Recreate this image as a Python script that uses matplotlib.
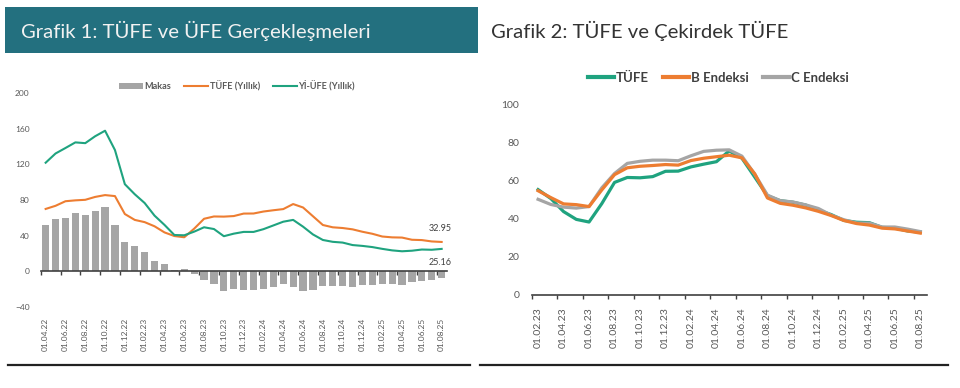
import matplotlib
matplotlib.use('Agg')
import matplotlib.pyplot as plt
from matplotlib.lines import Line2D
from matplotlib.patches import Rectangle, Patch

plt.rcParams['font.family'] = ['Lato', 'DejaVu Sans']

# ---------------- data ----------------
left_months = ['01.04.22', '01.05.22', '01.06.22', '01.07.22', '01.08.22', '01.09.22', '01.10.22',
               '01.11.22', '01.12.22', '01.01.23', '01.02.23', '01.03.23', '01.04.23', '01.05.23',
               '01.06.23', '01.07.23', '01.08.23', '01.09.23', '01.10.23', '01.11.23', '01.12.23',
               '01.01.24', '01.02.24', '01.03.24', '01.04.24', '01.05.24', '01.06.24', '01.07.24',
               '01.08.24', '01.09.24', '01.10.24', '01.11.24', '01.12.24', '01.01.25', '01.02.25',
               '01.03.25', '01.04.25', '01.05.25', '01.06.25', '01.07.25', '01.08.25']
tufe_yillik = [69.97, 73.50, 78.62, 79.60, 80.21, 83.45, 85.51, 84.39, 64.27,
               57.68, 55.18, 50.51, 43.68, 39.59, 38.21, 47.83, 58.94, 61.53, 61.36, 61.98, 64.77,
               64.86, 67.07, 68.50, 69.80, 75.45, 71.60, 61.78, 51.97, 49.38, 48.58, 47.09, 44.38,
               42.12, 39.05, 38.10, 37.86, 35.41, 35.05, 33.52, 32.95]
ufe_yillik = [121.82, 132.16, 138.31, 144.61, 143.75, 151.50, 157.69, 136.02, 97.72,
              86.46, 76.61, 62.45, 52.11, 40.76, 40.42, 44.50, 49.41, 47.44, 39.39, 42.25, 44.22,
              44.20, 47.29, 51.47, 55.66, 57.68, 50.09, 41.37, 35.17, 33.09, 32.24, 29.47, 28.52,
              27.20, 25.21, 23.50, 22.50, 23.13, 24.45, 24.19, 25.16]
makas = [51.85, 58.66, 59.69, 65.01, 63.54, 68.05, 72.18, 51.63, 33.45,
         28.78, 21.43, 11.94, 8.43, 1.17, 2.21, -3.33, -9.53, -14.09, -21.97, -19.73, -20.55,
         -20.66, -19.78, -17.03, -14.14, -17.77, -21.51, -20.41, -16.80, -16.29, -16.34, -17.62, -15.86,
         -14.92, -13.84, -14.60, -15.36, -12.28, -10.60, -9.33, -7.79]
left_yticks = [-40, 0, 40, 80, 120, 160, 200]

right_months = ['01.02.23', '01.03.23', '01.04.23', '01.05.23', '01.06.23', '01.07.23', '01.08.23',
                '01.09.23', '01.10.23', '01.11.23', '01.12.23', '01.01.24', '01.02.24', '01.03.24',
                '01.04.24', '01.05.24', '01.06.24', '01.07.24', '01.08.24', '01.09.24', '01.10.24',
                '01.11.24', '01.12.24', '01.01.25', '01.02.25', '01.03.25', '01.04.25', '01.05.25',
                '01.06.25', '01.07.25', '01.08.25']
tufe_r = [55.18, 50.51, 43.68, 39.59, 38.21, 47.83, 58.94, 61.53, 61.36, 61.98, 64.77,
          64.86, 67.07, 68.50, 69.80, 75.45, 71.60, 61.78, 51.97, 49.38, 48.58, 47.09, 44.38,
          42.12, 39.05, 38.10, 37.86, 35.41, 35.05, 33.52, 32.95]
b_endeksi = [54.6, 51.0, 47.7, 47.3, 46.3, 55.0, 63.0, 66.6, 67.4, 67.8, 68.3,
             68.0, 70.4, 71.6, 72.4, 73.2, 71.8, 63.5, 50.8, 48.0, 47.0, 45.6, 43.8,
             41.6, 39.0, 37.4, 36.6, 35.0, 34.6, 33.5, 32.4]
c_endeksi = [50.1, 47.4, 46.0, 45.5, 46.3, 56.1, 63.6, 68.9, 70.0, 70.6, 70.6,
             70.3, 72.9, 75.2, 75.8, 76.0, 72.7, 63.3, 52.3, 49.4, 48.7, 47.2, 45.3,
             41.8, 39.4, 37.7, 37.6, 35.6, 35.6, 34.5, 33.2]
right_yticks = [0, 20, 40, 60, 80, 100]

# ---------------- style ----------------
GREEN = '#1FA37F'
ORANGE = '#ED7D31'
GRAY = '#A5A5A5'
TEAL = '#23707F'
TXT = '#595959'

W, H = 960, 388
fig = plt.figure(figsize=(9.6, 3.88), dpi=100)


def fx(px):
    return px / W


def fy(py):
    return 1 - py / H


# header
fig.add_artist(Rectangle((fx(5), fy(53)), fx(478 - 5), (53 - 7) / H, transform=fig.transFigure,
                         facecolor=TEAL, edgecolor='none'))
fig.text(fx(21), fy(31), 'Grafik 1: TÜFE ve ÜFE Gerçekleşmeleri', color='#F2F2F2',
         fontsize=14.6, va='center', ha='left')
fig.text(fx(491), fy(31), 'Grafik 2: TÜFE ve Çekirdek TÜFE', color='#333333',
         fontsize=14.6, va='center', ha='left')

# bottom rules
fig.add_artist(Line2D([fx(8), fx(470)], [fy(365), fy(365)], transform=fig.transFigure,
                      color='#222222', lw=1.6))
fig.add_artist(Line2D([fx(480), fx(948)], [fy(365), fy(365)], transform=fig.transFigure,
                      color='#222222', lw=1.6))

# ---------------- left chart ----------------
axL = fig.add_axes([fx(40.7), fy(307), fx(446.6 - 40.7), (307 - 93) / H])
xl = list(range(len(left_months)))
axL.bar(xl, makas, width=0.72, color=GRAY, zorder=2)
axL.plot(xl, tufe_yillik, color=ORANGE, lw=1.5, zorder=3, solid_joinstyle='round')
axL.plot(xl, ufe_yillik, color=GREEN, lw=1.5, zorder=3, solid_joinstyle='round')
axL.set_xlim(-0.5, len(left_months) - 0.5)
axL.set_ylim(-40, 200)
axL.set_yticks(left_yticks)
axL.tick_params(axis='y', length=0, pad=8, labelsize=6, labelcolor=TXT)
for s in ['left', 'right', 'top']:
    axL.spines[s].set_visible(False)
axL.spines['bottom'].set_position(('data', 0))
axL.spines['bottom'].set_color('#404040')
axL.spines['bottom'].set_linewidth(1.2)
axL.set_xticks([i - 0.5 for i in range(0, len(left_months) + 1, 2)])
axL.tick_params(axis='x', length=3, width=1, color='#404040', labelbottom=False)
secL = axL.secondary_xaxis(0.0)
secL.set_xticks(xl[::2], left_months[::2], rotation=90)
secL.tick_params(length=0, pad=8, labelsize=6, labelcolor=TXT)
secL.spines['bottom'].set_visible(False)

axL.annotate(f'{tufe_yillik[-1]:.2f}', xy=(xl[-1], tufe_yillik[-1]), xytext=(-1, 10),
             textcoords='offset points', ha='center', va='center', fontsize=6.5, color='#404040')
axL.annotate(f'{ufe_yillik[-1]:.2f}', xy=(xl[-1], ufe_yillik[-1]), xytext=(-1, -10),
             textcoords='offset points', ha='center', va='center', fontsize=6.5, color='#404040')

hL = [Patch(facecolor=GRAY, edgecolor='none'),
      Line2D([], [], color=ORANGE, lw=1.5),
      Line2D([], [], color=GREEN, lw=1.5)]
legL = fig.legend(hL, ['Makas', 'TÜFE (Yıllık)', 'Yİ-ÜFE (Yıllık)'], loc='center',
                  bbox_to_anchor=(fx(237), fy(86)), ncol=3, frameon=False,
                  prop={'size': 6.6, 'weight': 'bold'}, handlelength=2.6, handletextpad=0.2,
                  columnspacing=1.4)
for t in legL.get_texts():
    t.set_color(TXT)

# ---------------- right chart ----------------
axR = fig.add_axes([fx(531.7), fy(295), fx(926.7 - 531.7), (295 - 104) / H])
xr = list(range(len(right_months)))
axR.plot(xr, c_endeksi, color=GRAY, lw=2.3, zorder=3, solid_joinstyle='round')
axR.plot(xr, b_endeksi, color=ORANGE, lw=2.3, zorder=4, solid_joinstyle='round')
axR.plot(xr, tufe_r, color=GREEN, lw=2.3, zorder=2, solid_joinstyle='round')
axR.set_xlim(-0.5, len(right_months) - 0.5)
axR.set_ylim(0, 100)
axR.set_yticks(right_yticks)
axR.tick_params(axis='y', length=0, pad=9, labelsize=7.5, labelcolor=TXT)
for s in ['left', 'right', 'top']:
    axR.spines[s].set_visible(False)
axR.spines['bottom'].set_color('#404040')
axR.spines['bottom'].set_linewidth(1.2)
axR.set_xticks(xr[::2], right_months[::2], rotation=90)
axR.set_xticks([i - 0.5 for i in range(0, len(right_months) + 1, 2)], minor=True)
axR.tick_params(axis='x', which='major', length=0, pad=9, labelsize=7.5, labelcolor=TXT)
axR.tick_params(axis='x', which='minor', length=3, width=1, color='#404040')

hR = [Line2D([], [], color=GREEN, lw=3),
      Line2D([], [], color=ORANGE, lw=3),
      Line2D([], [], color=GRAY, lw=3)]
legR = fig.legend(hR, ['TÜFE', 'B Endeksi', 'C Endeksi'], loc='center',
                  bbox_to_anchor=(fx(718), fy(78)), ncol=3, frameon=False,
                  prop={'size': 9.5, 'weight': 'bold'}, handlelength=2.0, handletextpad=0.1,
                  columnspacing=1.1)
for t in legR.get_texts():
    t.set_color('#404040')

fig.savefig('out.png', dpi=100)
